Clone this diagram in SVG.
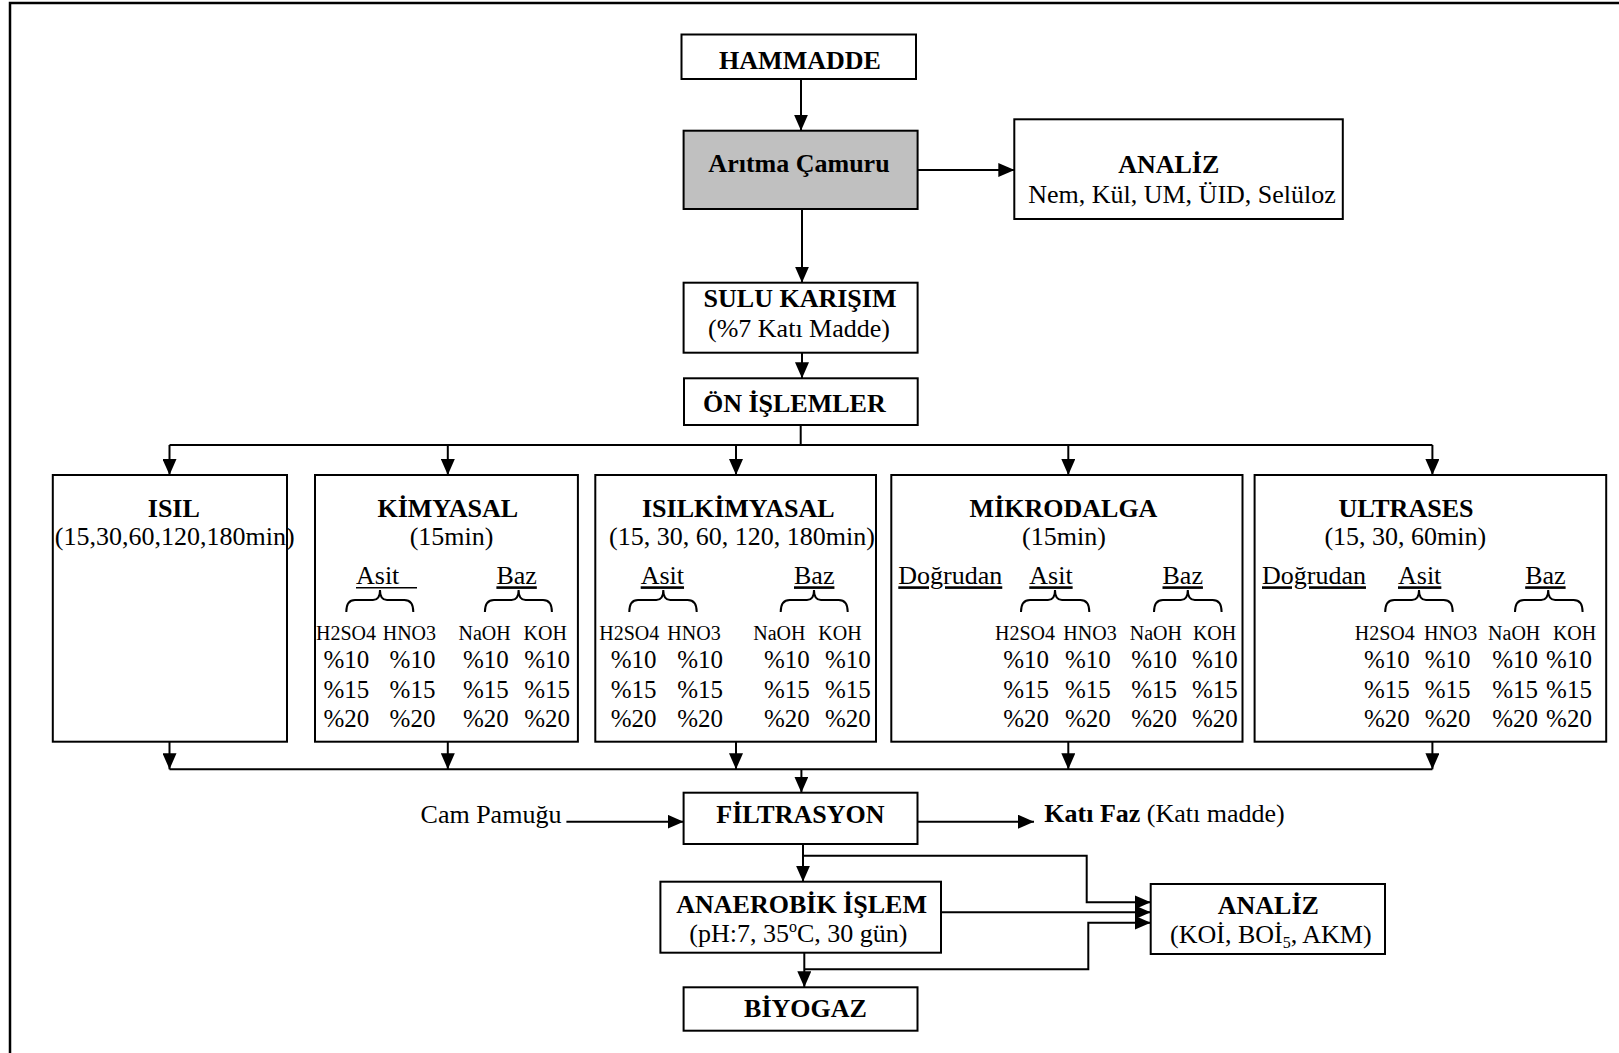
<svg xmlns="http://www.w3.org/2000/svg" width="1619" height="1053" viewBox="0 0 1619 1053">
<style>
.box{fill:#fff;stroke:#000;stroke-width:2}
.gray{fill:#c0c0c0}
text{font-family:"Liberation Serif","Times New Roman",serif;fill:#000}
.b{font-size:26px;font-weight:bold}
.r{font-size:26px}
.p{font-size:25px}
.s{font-size:20px}
.m{text-anchor:middle}
.e{text-anchor:end}
.u{text-decoration:underline}
.br{fill:none;stroke:#000;stroke-width:2}
#connectors path{fill:none;stroke:#000;stroke-width:2}
</style>
<defs>
<marker id="arr" viewBox="0 0 16 14" refX="16" refY="7" markerWidth="16" markerHeight="14" orient="auto" markerUnits="userSpaceOnUse">
<path d="M0,0 L16,7 L0,14 z" fill="#000"/>
</marker>
</defs>
<rect width="1619" height="1053" fill="#fff"/>
<path d="M10,1053 V3 H1619" fill="none" stroke="#000" stroke-width="2.5"/>

<g id="connectors">
<path d="M801,79 V130.7" marker-end="url(#arr)"/>
<path d="M917.6,170 H1014.3" marker-end="url(#arr)"/>
<path d="M802,209 V282.7" marker-end="url(#arr)"/>
<path d="M802,352.7 V378.3" marker-end="url(#arr)"/>
<path d="M800.7,425 V445"/>
<path d="M169.5,445 H1432.4"/>
<path d="M169.5,445 V475" marker-end="url(#arr)"/>
<path d="M447.8,445 V475" marker-end="url(#arr)"/>
<path d="M736,445 V475" marker-end="url(#arr)"/>
<path d="M1068.3,445 V475" marker-end="url(#arr)"/>
<path d="M1432.4,445 V475" marker-end="url(#arr)"/>
<path d="M169.5,741.7 V769.3" marker-end="url(#arr)"/>
<path d="M447.8,741.7 V769.3" marker-end="url(#arr)"/>
<path d="M736,741.7 V769.3" marker-end="url(#arr)"/>
<path d="M1068.3,741.7 V769.3" marker-end="url(#arr)"/>
<path d="M1432.4,741.7 V769.3" marker-end="url(#arr)"/>
<path d="M169.5,769.3 H1432.4"/>
<path d="M801.4,769.3 V792.7" marker-end="url(#arr)"/>
<path d="M566.4,821.7 H683.6" marker-end="url(#arr)"/>
<path d="M917.5,821.7 H1034" marker-end="url(#arr)"/>
<path d="M803,844 V881.7" marker-end="url(#arr)"/>
<path d="M803,855.7 H1086.7 V902.3 H1150.7" marker-end="url(#arr)"/>
<path d="M941,912.3 H1150.7" marker-end="url(#arr)"/>
<path d="M804.3,952.7 V987.3" marker-end="url(#arr)"/>
<path d="M804.3,969.3 H1088.3 V922.7 H1150.7" marker-end="url(#arr)"/>
</g>

<g id="hammadde">
<rect class="box" x="681.5" y="34.5" width="234.5" height="44.5"/>
<text class="b m" x="800" y="69">HAMMADDE</text>
</g>

<g id="aritma">
<rect class="box gray" x="683.6" y="130.7" width="234" height="78.3"/>
<text class="b m" x="799" y="172">Arıtma Çamuru</text>
</g>

<g id="analiz1">
<rect class="box" x="1014.3" y="119.3" width="328.5" height="99.7"/>
<text class="b m" x="1168.7" y="173.3">ANALİZ</text>
<text class="r m" x="1182" y="203.3">Nem, Kül, UM, ÜID, Selüloz</text>
</g>

<g id="sulu">
<rect class="box" x="683.6" y="282.7" width="234" height="70"/>
<text class="b m" x="800" y="306.7">SULU KARIŞIM</text>
<text class="r m" x="799" y="336.7">(%7 Katı Madde)</text>
</g>

<g id="on-islemler">
<rect class="box" x="684" y="378.3" width="233.7" height="46.7"/>
<text class="b m" x="794.3" y="412">ÖN İŞLEMLER</text>
</g>

<g id="isil">
<rect class="box" x="52.8" y="475" width="234.2" height="266.7"/>
<text class="b m" x="173.8" y="516.7">ISIL</text>
<text class="r m" x="174.7" y="545">(15,30,60,120,180min)</text>
</g>

<g id="kimyasal">
<rect class="box" x="315" y="475" width="262.9" height="266.7"/>
<text class="b m" x="447.8" y="516.7">KİMYASAL</text>
<text class="r m" x="451.6" y="545">(15min)</text>
<text class="r" x="356" y="584.3">Asit</text>
<line x1="356" y1="587.7" x2="417" y2="587.7" stroke="#000" stroke-width="1.5"/>
<text class="r u" x="496.4" y="584.3">Baz</text>
<path class="br" d="M346.3,612 Q346.3,600 355,600 H373 Q380,600 380,590 Q380,600 387,600 H404.3 Q413.3,600 413.3,612"/>
<path class="br" d="M484.9,612 Q484.9,600 494,600 H511.6 Q518.6,600 518.6,590 Q518.6,600 525.6,600 H543 Q551.9,600 551.9,612"/>
<text class="s" x="316" y="640">H2SO4</text>
<text class="s" x="382.7" y="640">HNO3</text>
<text class="s" x="458.5" y="640">NaOH</text>
<text class="s" x="523.5" y="640">KOH</text>
<text class="p" x="323.4" y="668.3">%10</text><text class="p" x="389.6" y="668.3">%10</text><text class="p" x="463" y="668.3">%10</text><text class="p" x="524.3" y="668.3">%10</text>
<text class="p" x="323.4" y="697.7">%15</text><text class="p" x="389.6" y="697.7">%15</text><text class="p" x="463" y="697.7">%15</text><text class="p" x="524.3" y="697.7">%15</text>
<text class="p" x="323.4" y="727.3">%20</text><text class="p" x="389.6" y="727.3">%20</text><text class="p" x="463" y="727.3">%20</text><text class="p" x="524.3" y="727.3">%20</text>
</g>

<g id="isilkimyasal">
<rect class="box" x="595.3" y="475" width="280.7" height="266.7"/>
<text class="b m" x="738.3" y="516.7">ISILKİMYASAL</text>
<text class="r m" x="742" y="545">(15, 30, 60, 120, 180min)</text>
<text class="r u" x="640.7" y="584.3">Asit</text>
<text class="r u" x="794" y="584.3">Baz</text>
<path class="br" d="M629.3,612 Q629.3,600 638,600 H656.3 Q663.3,600 663.3,590 Q663.3,600 670.3,600 H687.7 Q696.7,600 696.7,612"/>
<path class="br" d="M780.7,612 Q780.7,600 789.7,600 H807 Q814,600 814,590 Q814,600 821,600 H838.7 Q847.7,600 847.7,612"/>
<text class="s" x="599.3" y="640">H2SO4</text>
<text class="s" x="667.3" y="640">HNO3</text>
<text class="s" x="753.3" y="640">NaOH</text>
<text class="s" x="818.3" y="640">KOH</text>
<text class="p" x="610.7" y="668.3">%10</text><text class="p" x="677.3" y="668.3">%10</text><text class="p" x="764" y="668.3">%10</text><text class="p" x="825" y="668.3">%10</text>
<text class="p" x="610.7" y="697.7">%15</text><text class="p" x="677.3" y="697.7">%15</text><text class="p" x="764" y="697.7">%15</text><text class="p" x="825" y="697.7">%15</text>
<text class="p" x="610.7" y="727.3">%20</text><text class="p" x="677.3" y="727.3">%20</text><text class="p" x="764" y="727.3">%20</text><text class="p" x="825" y="727.3">%20</text>
</g>

<g id="mikrodalga">
<rect class="box" x="891.3" y="475" width="351.2" height="266.7"/>
<text class="b m" x="1063.5" y="516.7">MİKRODALGA</text>
<text class="r m" x="1064" y="545">(15min)</text>
<text class="r u" x="898.3" y="584.3">Doğrudan</text>
<text class="r u" x="1029.3" y="584.3">Asit</text>
<text class="r u" x="1162.5" y="584.3">Baz</text>
<path class="br" d="M1021,612 Q1021,600 1030,600 H1048 Q1055,600 1055,590 Q1055,600 1062,600 H1080.3 Q1089.3,600 1089.3,612"/>
<path class="br" d="M1154,612 Q1154,600 1163,600 H1180.8 Q1187.8,600 1187.8,590 Q1187.8,600 1194.8,600 H1212.6 Q1221.6,600 1221.6,612"/>
<text class="s" x="995" y="640">H2SO4</text>
<text class="s" x="1063.3" y="640">HNO3</text>
<text class="s" x="1129.8" y="640">NaOH</text>
<text class="s" x="1192.9" y="640">KOH</text>
<text class="p" x="1003.3" y="668.3">%10</text><text class="p" x="1065" y="668.3">%10</text><text class="p" x="1131.2" y="668.3">%10</text><text class="p" x="1191.9" y="668.3">%10</text>
<text class="p" x="1003.3" y="697.7">%15</text><text class="p" x="1065" y="697.7">%15</text><text class="p" x="1131.2" y="697.7">%15</text><text class="p" x="1191.9" y="697.7">%15</text>
<text class="p" x="1003.3" y="727.3">%20</text><text class="p" x="1065" y="727.3">%20</text><text class="p" x="1131.2" y="727.3">%20</text><text class="p" x="1191.9" y="727.3">%20</text>
</g>

<g id="ultrases">
<rect class="box" x="1254.6" y="475" width="351.6" height="266.7"/>
<text class="b m" x="1406" y="516.7">ULTRASES</text>
<text class="r m" x="1405.3" y="545">(15, 30, 60min)</text>
<text class="r u" x="1262" y="584.3">Doğrudan</text>
<text class="r u" x="1398" y="584.3">Asit</text>
<text class="r u" x="1525.2" y="584.3">Baz</text>
<path class="br" d="M1385.2,612 Q1385.2,600 1394.2,600 H1412 Q1419,600 1419,590 Q1419,600 1426,600 H1443.7 Q1452.7,600 1452.7,612"/>
<path class="br" d="M1515,612 Q1515,600 1524,600 H1541.2 Q1548.2,600 1548.2,590 Q1548.2,600 1555.2,600 H1573.6 Q1582.6,600 1582.6,612"/>
<text class="s" x="1354.8" y="640">H2SO4</text>
<text class="s" x="1424" y="640">HNO3</text>
<text class="s" x="1488.1" y="640">NaOH</text>
<text class="s" x="1552.9" y="640">KOH</text>
<text class="p" x="1364" y="668.3">%10</text><text class="p" x="1424.7" y="668.3">%10</text><text class="p" x="1492.2" y="668.3">%10</text><text class="p" x="1546.1" y="668.3">%10</text>
<text class="p" x="1364" y="697.7">%15</text><text class="p" x="1424.7" y="697.7">%15</text><text class="p" x="1492.2" y="697.7">%15</text><text class="p" x="1546.1" y="697.7">%15</text>
<text class="p" x="1364" y="727.3">%20</text><text class="p" x="1424.7" y="727.3">%20</text><text class="p" x="1492.2" y="727.3">%20</text><text class="p" x="1546.1" y="727.3">%20</text>
</g>

<g id="cam-pamugu">
<text class="r e" x="561.4" y="822.7">Cam Pamuğu</text>
</g>

<g id="filtrasyon">
<rect class="box" x="683.6" y="792.7" width="233.9" height="51.3"/>
<text class="b m" x="800.4" y="822.7">FİLTRASYON</text>
</g>

<g id="kati-faz">
<text class="r" x="1044.3" y="821.7"><tspan font-weight="bold">Katı Faz</tspan> (Katı madde)</text>
</g>

<g id="anaerobik">
<rect class="box" x="660.4" y="881.7" width="280.6" height="71"/>
<text class="b m" x="801.6" y="913.3">ANAEROBİK İŞLEM</text>
<text class="r m" x="798.4" y="942.3">(pH:7, 35<tspan font-size="16" dy="-10">o</tspan><tspan dy="10">C, 30 gün)</tspan></text>
</g>

<g id="biyogaz">
<rect class="box" x="683.6" y="987.3" width="233.9" height="43.4"/>
<text class="b m" x="805.5" y="1017.3">BİYOGAZ</text>
</g>

<g id="analiz2">
<rect class="box" x="1150.7" y="884" width="234.3" height="70"/>
<text class="b m" x="1268.3" y="914">ANALİZ</text>
<text class="r m" x="1270.8" y="942.7">(KOİ, BOİ<tspan font-size="16" dy="5">5</tspan><tspan dy="-5">, AKM)</tspan></text>
</g>
</svg>
